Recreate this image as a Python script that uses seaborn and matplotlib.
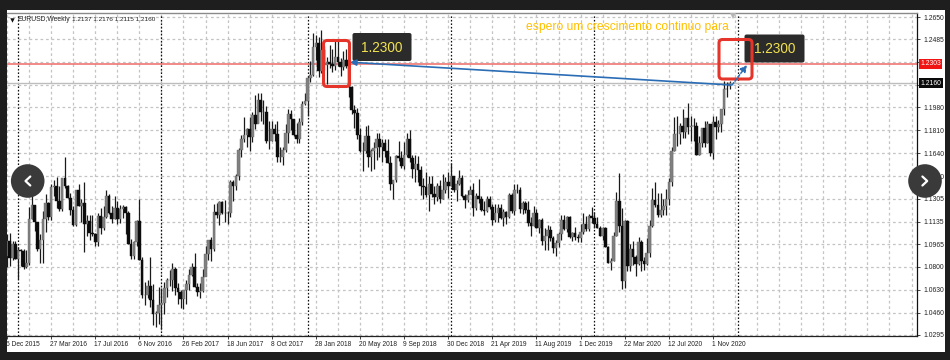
# EURUSD weekly candles, terminal screenshot look
import pandas as pd
import matplotlib.pyplot as plt
import seaborn as sns
from matplotlib.patches import Rectangle, FancyBboxPatch, Circle
from matplotlib.transforms import Bbox

opens = [
    1.0880,1.0990,1.0868,1.0965,1.0860,1.0925,1.0915,1.0795,1.0830,1.1155,
    1.1255,1.1130,1.0930,1.0995,1.1155,1.1270,1.1170,1.1390,1.1400,1.1285,
    1.1225,1.1455,1.1400,1.1310,1.1220,1.1110,1.1365,1.1250,1.1275,1.1115,
    1.1140,1.1050,1.1040,1.0980,1.1175,1.1085,1.1165,1.1325,1.1195,1.1155,
    1.1235,1.1155,1.1225,1.1240,1.1200,1.0970,1.0880,1.0985,1.1140,1.0850,
    1.0590,1.0590,1.0660,1.0555,1.0450,1.0455,1.0520,1.0530,1.0640,1.0700,
    1.0700,1.0780,1.0640,1.0615,1.0560,1.0625,1.0670,1.0740,1.0800,1.0650,
    1.0615,1.0620,1.0725,1.0895,1.0995,1.0930,1.1205,1.1180,1.1280,1.1195,
    1.1200,1.1195,1.1425,1.1400,1.1470,1.1665,1.1750,1.1775,1.1820,1.1760,
    1.1925,1.1860,1.2035,1.1945,1.1945,1.1730,1.1735,1.1820,1.1780,1.1610,
    1.1610,1.1665,1.1790,1.1935,1.1895,1.1775,1.1750,1.1870,1.2005,1.2030,
    1.2195,1.2220,1.2425,1.2460,1.2250,1.2405,1.2295,1.2315,1.2305,1.2285,
    1.2355,1.2320,1.2280,1.2330,1.2285,1.2130,1.1960,1.1940,1.1775,1.1655,
    1.1660,1.1770,1.1610,1.1660,1.1680,1.1745,1.1685,1.1720,1.1655,1.1565,
    1.1410,1.1440,1.1620,1.1605,1.1550,1.1625,1.1750,1.1605,1.1525,1.1560,
    1.1515,1.1400,1.1390,1.1335,1.1415,1.1340,1.1315,1.1400,1.1305,1.1370,
    1.1430,1.1395,1.1470,1.1365,1.1410,1.1455,1.1325,1.1295,1.1335,1.1365,
    1.1235,1.1325,1.1300,1.1220,1.1215,1.1300,1.1245,1.1145,1.1200,1.1235,
    1.1160,1.1205,1.1170,1.1335,1.1210,1.1370,1.1370,1.1225,1.1270,1.1220,
    1.1125,1.1105,1.1200,1.1090,1.1145,1.0990,1.1030,1.1075,1.1015,1.0940,
    1.0975,1.1045,1.1150,1.1080,1.1165,1.1020,1.1050,1.1020,1.1015,1.1060,
    1.1120,1.1080,1.1175,1.1160,1.1120,1.1090,1.1025,1.1090,1.0945,1.0830,
    1.0845,1.1025,1.1285,1.1105,1.0695,1.1140,1.0805,1.0935,1.0875,1.0820,
    1.0985,1.0840,1.0820,1.0900,1.1100,1.1295,1.1255,1.1180,1.1220,1.1250,
    1.1300,1.1425,1.1655,1.1780,1.1785,1.1840,1.1795,1.1905,1.1835,1.1845,
    1.1840,1.1630,1.1720,1.1825,1.1720,1.1860,1.1645,1.1875,1.1835,1.1855,
    1.1965,1.2120,1.2137,
]
highs = [
    1.1043,1.1050,1.0990,1.0990,1.0945,1.0935,1.0930,1.0925,1.1240,1.1375,
    1.1260,1.1125,1.1045,1.1215,1.1340,1.1280,1.1410,1.1440,1.1465,1.1395,
    1.1460,1.1616,1.1405,1.1350,1.1250,1.1365,1.1415,1.1300,1.1425,1.1185,
    1.1185,1.1185,1.1050,1.1200,1.1235,1.1250,1.1365,1.1340,1.1250,1.1325,
    1.1285,1.1260,1.1260,1.1250,1.1210,1.1005,1.0990,1.1145,1.1300,1.0870,
    1.0685,1.0700,1.0875,1.0670,1.0475,1.0650,1.0640,1.0685,1.0720,1.0775,
    1.0830,1.0795,1.0680,1.0625,1.0630,1.0700,1.0780,1.0825,1.0905,1.0680,
    1.0680,1.0780,1.0950,1.0995,1.1022,1.1265,1.1270,1.1285,1.1285,1.1295,
    1.1210,1.1445,1.1445,1.1490,1.1680,1.1775,1.1910,1.1830,1.1910,1.1945,
    1.2070,1.2090,1.2090,1.2035,1.1990,1.1880,1.1880,1.1860,1.1880,1.1690,
    1.1690,1.1860,1.1965,1.1960,1.1890,1.1865,1.1905,1.2025,1.2090,1.2215,
    1.2325,1.2535,1.2520,1.2505,1.2555,1.2435,1.2355,1.2445,1.2415,1.2475,
    1.2475,1.2345,1.2395,1.2415,1.2290,1.2140,1.1995,1.1975,1.1830,1.1725,
    1.1840,1.1850,1.1675,1.1725,1.1790,1.1790,1.1745,1.1750,1.1745,1.1620,
    1.1445,1.1625,1.1735,1.1655,1.1725,1.1790,1.1815,1.1625,1.1625,1.1620,
    1.1550,1.1455,1.1500,1.1470,1.1470,1.1400,1.1420,1.1445,1.1485,1.1465,
    1.1500,1.1570,1.1475,1.1440,1.1515,1.1480,1.1340,1.1370,1.1400,1.1420,
    1.1345,1.1450,1.1325,1.1285,1.1325,1.1325,1.1265,1.1265,1.1265,1.1265,
    1.1225,1.1215,1.1345,1.1350,1.1410,1.1410,1.1390,1.1285,1.1285,1.1285,
    1.1165,1.1250,1.1230,1.1155,1.1160,1.1085,1.1110,1.1105,1.1025,1.0995,
    1.1060,1.1180,1.1180,1.1175,1.1175,1.1060,1.1095,1.1040,1.1115,1.1200,
    1.1175,1.1190,1.1240,1.1205,1.1170,1.1100,1.1095,1.1095,1.0950,1.0865,
    1.1055,1.1355,1.1495,1.1235,1.1145,1.1145,1.0965,1.0990,1.0890,1.1020,
    1.0995,1.0875,1.1010,1.1145,1.1385,1.1425,1.1350,1.1345,1.1305,1.1375,
    1.1455,1.1690,1.1910,1.1915,1.1865,1.1965,1.1905,1.2010,1.1915,1.1900,
    1.1870,1.1770,1.1830,1.1880,1.1880,1.1860,1.1920,1.1920,1.1890,1.1965,
    1.2175,1.2165,1.2176,
]
lows = [
    1.0795,1.0805,1.0850,1.0855,1.0710,1.0805,1.0780,1.0790,1.0810,1.1155,
    1.1065,1.0920,1.0825,1.0825,1.1055,1.1145,1.1145,1.1325,1.1235,1.1215,
    1.1215,1.1385,1.1310,1.1180,1.1105,1.1100,1.1250,1.1130,1.0910,1.1025,
    1.1000,1.1030,1.0950,1.0950,1.1045,1.1075,1.1160,1.1190,1.1125,1.1155,
    1.1120,1.1125,1.1160,1.1045,1.0965,1.0855,1.0860,1.0955,1.0850,1.0565,
    1.0520,1.0565,1.0505,1.0365,1.0350,1.0375,1.0340,1.0450,1.0575,1.0660,
    1.0620,1.0590,1.0525,1.0495,1.0490,1.0525,1.0625,1.0735,1.0650,1.0585,
    1.0570,1.0610,1.0820,1.0850,1.0840,1.0920,1.1160,1.1110,1.1190,1.1130,
    1.1120,1.1170,1.1285,1.1370,1.1440,1.1610,1.1725,1.1690,1.1660,1.1725,
    1.1820,1.1865,1.1880,1.1860,1.1715,1.1670,1.1730,1.1730,1.1575,1.1575,
    1.1555,1.1650,1.1715,1.1810,1.1770,1.1715,1.1720,1.1850,1.1995,1.1915,
    1.2165,1.2215,1.2335,1.2205,1.2235,1.2260,1.2155,1.2270,1.2240,1.2260,
    1.2290,1.2215,1.2255,1.2275,1.2055,1.1935,1.1825,1.1750,1.1650,1.1510,
    1.1645,1.1540,1.1510,1.1525,1.1590,1.1610,1.1575,1.1615,1.1565,1.1365,
    1.1300,1.1430,1.1585,1.1530,1.1525,1.1615,1.1575,1.1460,1.1430,1.1430,
    1.1335,1.1300,1.1315,1.1215,1.1320,1.1265,1.1285,1.1270,1.1300,1.1345,
    1.1310,1.1395,1.1355,1.1290,1.1405,1.1320,1.1235,1.1280,1.1345,1.1175,
    1.1220,1.1275,1.1215,1.1185,1.1205,1.1225,1.1110,1.1135,1.1135,1.1155,
    1.1105,1.1115,1.1160,1.1200,1.1180,1.1345,1.1200,1.1190,1.1200,1.1100,
    1.1025,1.1100,1.1090,1.1050,1.0960,1.0925,1.0925,1.0990,1.0905,1.0880,
    1.0945,1.1000,1.1075,1.1060,1.1015,1.0990,1.0995,1.0980,1.0985,1.1040,
    1.1065,1.1065,1.1125,1.1085,1.1085,1.1025,1.1000,1.0945,1.0830,1.0775,
    1.0845,1.1025,1.1055,1.0635,1.0640,1.0770,1.0770,1.0810,1.0730,1.0815,
    1.0765,1.0775,1.0815,1.0875,1.1095,1.1240,1.1165,1.1170,1.1185,1.1185,
    1.1255,1.1400,1.1655,1.1695,1.1710,1.1755,1.1755,1.1780,1.1735,1.1735,
    1.1625,1.1625,1.1690,1.1685,1.1715,1.1620,1.1600,1.1745,1.1800,1.1800,
    1.1925,1.2055,1.2115,
]
closes = [
    1.0990,1.0868,1.0965,1.0860,1.0925,1.0915,1.0795,1.0830,1.1155,1.1255,
    1.1130,1.0930,1.0995,1.1155,1.1270,1.1170,1.1390,1.1400,1.1285,1.1225,
    1.1455,1.1400,1.1310,1.1220,1.1110,1.1365,1.1250,1.1275,1.1115,1.1140,
    1.1050,1.1040,1.0980,1.1175,1.1085,1.1165,1.1325,1.1195,1.1155,1.1235,
    1.1155,1.1225,1.1240,1.1200,1.0970,1.0880,1.0985,1.1140,1.0850,1.0590,
    1.0590,1.0660,1.0555,1.0450,1.0455,1.0520,1.0530,1.0640,1.0700,1.0700,
    1.0780,1.0640,1.0615,1.0560,1.0625,1.0670,1.0740,1.0800,1.0650,1.0615,
    1.0620,1.0725,1.0895,1.0995,1.0930,1.1205,1.1180,1.1280,1.1195,1.1200,
    1.1195,1.1425,1.1400,1.1470,1.1665,1.1750,1.1775,1.1820,1.1760,1.1925,
    1.1860,1.2035,1.1945,1.1945,1.1730,1.1735,1.1820,1.1780,1.1610,1.1610,
    1.1665,1.1790,1.1935,1.1895,1.1775,1.1750,1.1870,1.2005,1.2030,1.2195,
    1.2220,1.2425,1.2460,1.2250,1.2405,1.2295,1.2315,1.2305,1.2285,1.2355,
    1.2320,1.2280,1.2330,1.2285,1.2130,1.1960,1.1940,1.1775,1.1655,1.1660,
    1.1770,1.1610,1.1660,1.1680,1.1745,1.1685,1.1720,1.1655,1.1565,1.1410,
    1.1440,1.1620,1.1605,1.1550,1.1625,1.1750,1.1605,1.1525,1.1560,1.1515,
    1.1400,1.1390,1.1335,1.1415,1.1340,1.1315,1.1400,1.1305,1.1370,1.1430,
    1.1395,1.1470,1.1365,1.1410,1.1455,1.1325,1.1295,1.1335,1.1365,1.1235,
    1.1325,1.1300,1.1220,1.1215,1.1300,1.1245,1.1145,1.1200,1.1235,1.1160,
    1.1205,1.1170,1.1335,1.1210,1.1370,1.1370,1.1225,1.1270,1.1220,1.1125,
    1.1105,1.1200,1.1090,1.1145,1.0990,1.1030,1.1075,1.1015,1.0940,1.0975,
    1.1045,1.1150,1.1080,1.1165,1.1020,1.1050,1.1020,1.1015,1.1060,1.1120,
    1.1080,1.1175,1.1160,1.1120,1.1090,1.1025,1.1090,1.0945,1.0830,1.0845,
    1.1025,1.1285,1.1105,1.0695,1.1140,1.0805,1.0935,1.0875,1.0820,1.0985,
    1.0840,1.0820,1.0900,1.1100,1.1295,1.1255,1.1180,1.1220,1.1250,1.1300,
    1.1425,1.1655,1.1780,1.1785,1.1840,1.1795,1.1905,1.1835,1.1845,1.1840,
    1.1630,1.1720,1.1825,1.1720,1.1860,1.1645,1.1875,1.1835,1.1855,1.1965,
    1.2120,1.2115,1.2160,
]

date_weeks = [0,16,32,48,64,80,96,112,128,144,160,176,192,208,224,240,256]
date_labels = ['6 Dec 2015','27 Mar 2016','17 Jul 2016','6 Nov 2016','26 Feb 2017','18 Jun 2017',
               '8 Oct 2017','28 Jan 2018','20 May 2018','9 Sep 2018','30 Dec 2018','21 Apr 2019',
               '11 Aug 2019','1 Dec 2019','22 Mar 2020','12 Jul 2020','1 Nov 2020']
year_weeks = [4,56,109,161,213,265]
grid_prices = [1.2650,1.2485,1.2315,1.2145,1.1980,1.1810,1.1640,1.1470,1.1305,1.1135,1.0965,1.0800,1.0630,1.0460,1.0295]
price_labels = ['1.2650','1.2485','','','1.1980','1.1810','1.1640','1.1470','1.1305','1.1135','1.0965','1.0800','1.0630','1.0460','1.0295']
target_line = 1.2303
last_line = 1.2160

DARK = '#1e1e1e'
PX_W = 950
PX_H = 360

sns.set_theme(style='white')
plt.rcParams['font.family'] = ['Liberation Sans', 'DejaVu Sans']

df = pd.DataFrame({'week': range(len(closes)), 'open': opens, 'high': highs, 'low': lows, 'close': closes})
df['body_low'] = df[['open', 'close']].min(axis=1)
df['body'] = (df['close'] - df['open']).abs()

fig = plt.figure(figsize=(9.5, 3.6), dpi=100, facecolor=DARK)

# white panel behind the chart
bg = fig.add_axes([0, 0, 1, 1], zorder=0)
bg.set_xlim(0, PX_W)
bg.set_ylim(PX_H, 0)
bg.axis('off')
bg.add_patch(Rectangle((7, 10), 938, 342, fc='white', ec='none'))

ax = fig.add_axes([7/PX_W, (PX_H-336)/PX_H, 909.5/PX_W, 322.5/PX_H], zorder=1)
ax.set_facecolor('none')

for y in grid_prices:
    ax.axhline(y, color='#c4c4c4', lw=0.9, ls=(0, (2.2, 2.2)), zorder=1)
for x in range(0, 330, 8):
    ax.axvline(x, color='#c4c4c4', lw=0.9, ls=(0, (2.2, 2.2)), zorder=1)
for x in year_weeks:
    ax.axvline(x, color='#111111', lw=0.9, ls=(0, (1.3, 1.5)), zorder=1.5)

ax.axhline(last_line, color='#bdbdbd', lw=1.0, zorder=2)
ax.axhline(target_line, color='#ee6a66', lw=1.1, zorder=2)

ax.vlines(df['week'], df['low'], df['high'], color='#1a1a1a', lw=0.9, zorder=3)

up = df[df['close'] >= df['open']]
down = df[df['close'] < df['open']]
sns.barplot(data=up, x='week', y='body', bottom=up['body_low'].values, native_scale=True, errorbar=None,
            color='#808080', saturation=1, width=0.95, edgecolor='#6a6a6a', linewidth=0.3, zorder=4, ax=ax)
sns.barplot(data=down, x='week', y='body', bottom=down['body_low'].values, native_scale=True, errorbar=None,
            color='#0c0c0c', saturation=1, width=0.95, edgecolor='#0c0c0c', linewidth=0.3, zorder=4, ax=ax)

ax.set_xlim(0, 329.8)
ax.set_ylim(1.0287, 1.2676)
ax.set_xlabel('')
ax.set_ylabel('')
ax.set_xticks(date_weeks)
ax.set_xticklabels([])
ax.yaxis.tick_right()
ax.set_yticks(grid_prices)
ax.set_yticklabels(price_labels, fontsize=4.9, color='#222222')
ax.tick_params(axis='y', length=2, width=0.6, pad=3, color='#222222', right=True)
ax.tick_params(axis='x', length=2.2, width=0.6, color='#222222', bottom=True)

for s in ['top', 'left']:
    ax.spines[s].set_visible(False)
ax.spines['right'].set_color('#111111')
ax.spines['bottom'].set_color('#222222')
ax.spines['right'].set_linewidth(0.9)
ax.spines['bottom'].set_linewidth(0.9)

# date labels sit to the right of their tick, the first one is cut by the panel edge
panel_clip = Bbox([[7, 0], [945, PX_H]])
for wk, lab in zip(date_weeks, date_labels):
    t = ax.annotate(lab, (wk, 0), xycoords=('data', 'axes fraction'), xytext=(-0.8, -3.4),
                    textcoords='offset points', fontsize=4.8, color='#222222', ha='left', va='top',
                    annotation_clip=False)
    t.set_clip_box(panel_clip)
    t.set_clip_on(True)

ax.text(331.2, target_line, '1.2303', fontsize=4.9, color='white', va='center', ha='left', clip_on=False, zorder=6,
        bbox=dict(fc='#f01414', ec='none', pad=1.0))
ax.text(331.2, last_line, '1.2160', fontsize=4.9, color='white', va='center', ha='left', clip_on=False, zorder=6,
        bbox=dict(fc='#0a0a0a', ec='none', pad=1.0))

# annotations on top, in screen pixels
top = fig.add_axes([0, 0, 1, 1], zorder=2)
top.set_xlim(0, PX_W)
top.set_ylim(PX_H, 0)
top.axis('off')
top.patch.set_alpha(0)

top.plot([7, 916.5], [12.8, 12.8], color='#8a8a8a', lw=1.0)
top.plot([733], [15.5], marker='v', color='#b5b5b5', ms=4, mew=0)

top.plot([11.5], [19.5], marker='v', color='#111111', ms=3.2, mew=0)
top.text(18, 19.5, 'EURUSD,Weekly', fontsize=4.9, color='#222222', va='center', ha='left')
top.text(72, 19.5, '1.2137 1.2176 1.2115 1.2160', fontsize=4.6, color='#222222', va='center', ha='left')

top.text(526, 27, 'espero um crescimento continuo para', fontsize=8.7, color='#ffc000', va='center', ha='left')

for bx, by, bw, bh in [(352.5, 33, 59, 28), (744.5, 34.5, 60, 28)]:
    top.add_patch(FancyBboxPatch((bx+1.5, by+1.5), bw-3, bh-3, boxstyle='round,pad=1.5,rounding_size=2',
                                 fc='#2b2b2b', ec='none', zorder=3))
    top.text(bx+bw/2, by+bh/2+0.5, '1.2300', fontsize=9.8, color='#f2e24e', va='center', ha='center', zorder=4)

for bx, by, bw, bh in [(323.5, 40.5, 26, 46), (719, 39.5, 33, 39.5)]:
    top.add_patch(FancyBboxPatch((bx+3, by+3), bw-6, bh-6, boxstyle='round,pad=3,rounding_size=3.5',
                                 fc='none', ec='#e5352b', lw=2.2, zorder=5))

top.annotate('', xy=(350, 62.2), xytext=(731, 85),
             arrowprops=dict(arrowstyle='-|>', color='#2a6db5', lw=1.2, mutation_scale=9, shrinkA=0, shrinkB=0), zorder=5)
top.annotate('', xy=(747, 65), xytext=(732, 85),
             arrowprops=dict(arrowstyle='-|>', color='#2a6db5', lw=1.1, ls=(0, (2, 1.2)), mutation_scale=10, shrinkA=0, shrinkB=0), zorder=6)

for cx, sign in [(27.7, 1), (925, -1)]:
    top.add_patch(Circle((cx, 181), 16.8, fc='#3a3a3a', ec='none', zorder=7))
    top.plot([cx+2.6*sign, cx-2.2*sign, cx+2.6*sign], [176.5, 181, 185.5], color='white', lw=1.6, zorder=8)

fig.savefig('out.png', dpi=100, facecolor=DARK)
